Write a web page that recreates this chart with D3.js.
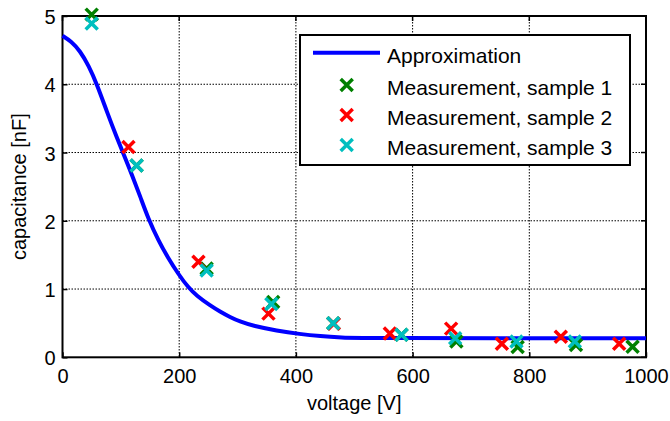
<!DOCTYPE html>
<html><head><meta charset="utf-8">
<script src="https://cdn.jsdelivr.net/npm/d3@7"></script>
<style>body{margin:0;background:#fff}svg{display:block}text{font-family:"Liberation Sans",Arial,sans-serif;fill:#000}</style>
</head><body>
<script>
// Approximation curve
const approxV = [0, 15, 30, 45, 59, 76, 93, 107, 120, 133, 147, 165, 180, 200, 215, 230, 253, 270, 287, 305, 327, 367, 407, 441, 480, 510, 1000];
const approxC = [4.71, 4.63, 4.49, 4.27, 4.00, 3.60, 3.22, 2.93, 2.65, 2.36, 2.03, 1.70, 1.47, 1.20, 1.03, 0.90, 0.76, 0.67, 0.59, 0.52, 0.46, 0.39, 0.34, 0.31, 0.29, 0.28, 0.28];
// Measurements
const s1V = [50, 127, 247, 361, 464, 581, 675, 780, 880, 977];
const s1C = [5.02, 2.81, 1.30, 0.81, 0.50, 0.33, 0.23, 0.15, 0.18, 0.155];
const s2V = [113, 233, 353, 465, 561, 666, 753, 854, 954];
const s2C = [3.08, 1.40, 0.64, 0.49, 0.35, 0.42, 0.20, 0.30, 0.20];
const s3V = [50, 127, 247, 358, 464, 581, 673, 778, 878];
const s3C = [4.89, 2.81, 1.27, 0.78, 0.50, 0.33, 0.28, 0.23, 0.23];
const xTicks = [0, 200, 400, 600, 800, 1000];
const yTicks = [0, 1, 2, 3, 4, 5];
const legendLabels = ["Approximation", "Measurement, sample 1", "Measurement, sample 2", "Measurement, sample 3"];
const colors = ["#0000ff", "#008000", "#ff0000", "#00bfbf"];

const W = 670, H = 421;
const L = 62.5, R = 646, T = 16, B = 357.3;
const svg = d3.select("body").append("svg").attr("width", W).attr("height", H);
const x = d3.scaleLinear().domain([0, 1000]).range([L, R]);
const y = d3.scaleLinear().domain([0, 5]).range([B, T]);

// grid
const g = svg.append("g");
g.selectAll(".gx").data(xTicks.slice(1, -1)).join("line")
  .attr("x1", d => x(d)).attr("x2", d => x(d)).attr("y1", T).attr("y2", B)
  .attr("stroke", "#000").attr("stroke-width", 1).attr("stroke-dasharray", "1.5,1.5");
g.selectAll(".gy").data(yTicks.slice(1, -1)).join("line")
  .attr("y1", d => y(d)).attr("y2", d => y(d)).attr("x1", L).attr("x2", R)
  .attr("stroke", "#000").attr("stroke-width", 1).attr("stroke-dasharray", "1.5,1.5");

// axes
const xAxis = d3.axisBottom(x).tickValues(xTicks).tickSize(-5).tickPadding(12).tickFormat(d3.format("d"));
const yAxis = d3.axisLeft(y).tickValues(yTicks).tickSize(-5).tickPadding(7).tickFormat(d3.format("d"));
const gx = svg.append("g").attr("transform", `translate(0,${B})`).call(xAxis);
const gy = svg.append("g").attr("transform", `translate(${L},0)`).call(yAxis);
[gx, gy].forEach(a => {
  a.select(".domain").remove();
  a.selectAll("line").attr("stroke", "#000").attr("stroke-width", 1.5);
  a.selectAll("text").attr("font-size", 20).attr("font-family", "Liberation Sans, Arial, sans-serif");
});
gx.selectAll("text").attr("dy", "0.71em");
gy.selectAll("text").attr("dy", "0.38em");
// top/right ticks
svg.append("g").selectAll("line").data(xTicks).join("line")
  .attr("x1", d => x(d)).attr("x2", d => x(d)).attr("y1", T).attr("y2", T + 5).attr("stroke", "#000").attr("stroke-width", 1.5);
svg.append("g").selectAll("line").data(yTicks).join("line")
  .attr("y1", d => y(d)).attr("y2", d => y(d)).attr("x1", R).attr("x2", R - 5).attr("stroke", "#000").attr("stroke-width", 1.5);

// box
svg.append("rect").attr("x", L).attr("y", T).attr("width", R - L).attr("height", B - T)
  .attr("fill", "none").attr("stroke", "#000").attr("stroke-width", 2);

// curve
const approx = approxV.map((v, i) => [v, approxC[i]]);
svg.append("path").datum(approx)
  .attr("d", d3.line().x(d => x(d[0])).y(d => y(d[1])).curve(d3.curveBasis))
  .attr("fill", "none").attr("stroke", colors[0]).attr("stroke-width", 4);

// markers
function cross(sel, cx, cy, col, s) {
  sel.append("path").attr("d", `M${cx - s},${cy - s}L${cx + s},${cy + s}M${cx - s},${cy + s}L${cx + s},${cy - s}`)
    .attr("stroke", col).attr("stroke-width", 3.5).attr("fill", "none");
}
const series = [[s1V, s1C, colors[1]], [s2V, s2C, colors[2]], [s3V, s3C, colors[3]]];
series.forEach(([vs, cs, col]) => {
  const gg = svg.append("g");
  vs.forEach((v, i) => cross(gg, x(v), y(cs[i]), col, 6));
});

// labels
svg.append("text").attr("x", (L + R) / 2).attr("y", 410).attr("text-anchor", "middle")
  .attr("font-size", 20).text("voltage [V]");
svg.append("text").attr("transform", `translate(26,${(T + B) / 2}) rotate(-90)`).attr("text-anchor", "middle")
  .attr("font-size", 20).text("capacitance [nF]");

// legend
const lg = svg.append("g");
lg.append("rect").attr("x", 300).attr("y", 35).attr("width", 330).attr("height", 130)
  .attr("fill", "#fff").attr("stroke", "#000").attr("stroke-width", 2);
lg.append("line").attr("x1", 313).attr("x2", 380).attr("y1", 52.7).attr("y2", 52.7)
  .attr("stroke", colors[0]).attr("stroke-width", 4);
const rowY = [55.5, 87.5, 117.5, 147.5];
[1, 2, 3].forEach(i => cross(lg, 346.7, rowY[i] - 2.5, colors[i], 6));
lg.selectAll("text").data(legendLabels).join("text")
  .attr("x", 387).attr("y", (d, i) => rowY[i]).attr("dy", "0.36em")
  .attr("font-size", 21).text(d => d);
</script>
</body></html>
